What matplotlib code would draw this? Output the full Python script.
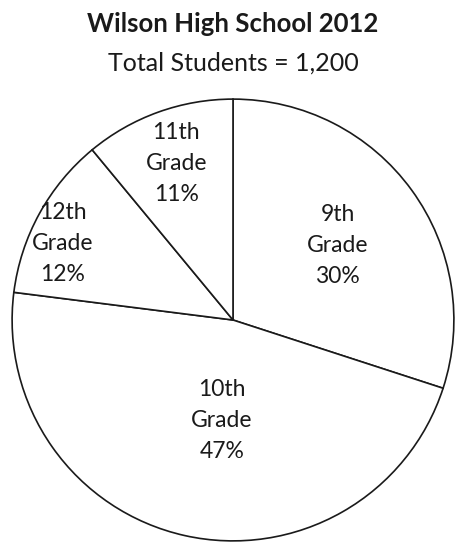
import matplotlib
matplotlib.use("Agg")
import matplotlib.pyplot as plt

grades = ["9th\nGrade", "10th\nGrade", "12th\nGrade", "11th\nGrade"]
shares = [30, 47, 12, 11]
title = "Wilson High School 2012"
subtitle = "Total Students = 1,200"

W, H = 456, 543
fig = plt.figure(figsize=(W / 100, H / 100), dpi=100)
fam = ["Lato", "DejaVu Sans"]

cx, cy, r = 233, 320, 222
ax = fig.add_axes([(cx - r) / W, (H - cy - r) / H, 2 * r / W, 2 * r / H])
wedges, _ = ax.pie(shares, startangle=90, counterclock=False, radius=1,
                   colors=["white"] * 4,
                   wedgeprops=dict(edgecolor="#1a1a1a", linewidth=1.2))
ax.set_xlim(-1.005, 1.005)
ax.set_ylim(-1.005, 1.005)
ax.set_aspect("equal")
ax.axis("off")

# label positions (pixel coordinates of reference) -> data coords
label_px = [(338, 245), (222, 421), (62, 243), (176, 163)]
for (px, py), g, s in zip(label_px, grades, shares):
    x = (px - cx) / r
    y = (cy - py) / r
    ax.text(x, y, f"{g}\n{s}%", ha="center", va="center", fontsize=16.5,
            family=fam, color="#1a1a1a", linespacing=1.6)

fig.text(233 / W, 1 - 24 / H, title, ha="center", va="center", fontsize=18.5,
         fontweight="bold", family=fam, color="#1a1a1a")
fig.text(233 / W, 1 - 63 / H, subtitle, ha="center", va="center", fontsize=18,
         family=fam, color="#1a1a1a")

fig.savefig("out.png", dpi=100)
